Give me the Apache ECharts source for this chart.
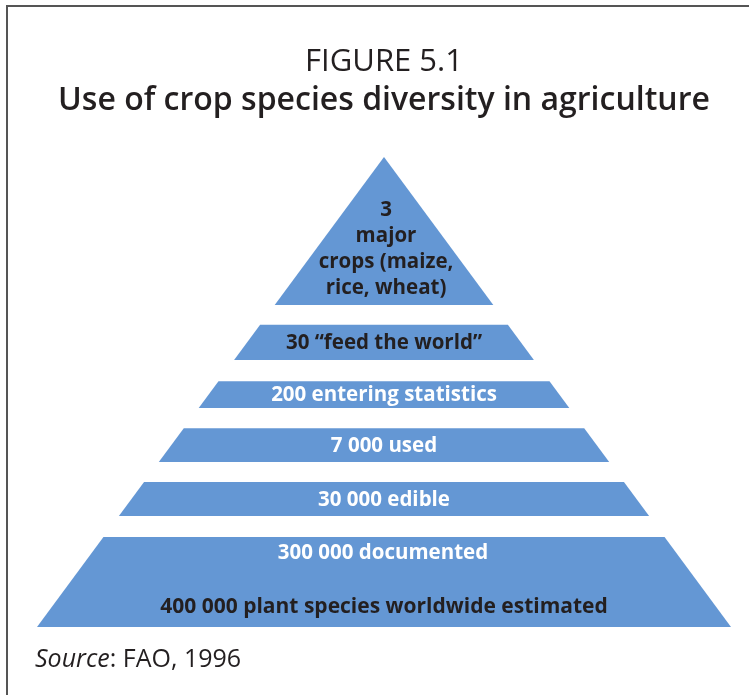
<!DOCTYPE html>
<html>
<head>
<meta charset="utf-8">
<script src="https://cdn.jsdelivr.net/npm/echarts@6/dist/echarts.min.js"></script>
<style>
  html, body { margin: 0; padding: 0; background: #ffffff; overflow: hidden; }
  #chart { width: 749px; height: 695px; }
</style>
</head>
<body>
<div id="chart"></div>
<script>
// ---- Data ----
const tierNames = ['3 major crops', '30 feed the world', '200 entering statistics', '7 000 used', '30 000 edible', '300 000 documented'];
const speciesCounts = [3, 30, 200, 7000, 30000, 300000];
const tierLabels = [
  '3\nmajor\ncrops (maize,\nrice, wheat)',
  '30 \u201cfeed the world\u201d',
  '200 entering statistics',
  '7 000 used',
  '30 000 edible',
  '300 000 documented'
];
// extent of each tier on the pyramid level scale (0 = base, 100 = apex)
const levelFrom = [68.5, 56.8, 46.6, 35.1, 23.6, 0];
const levelTo   = [100, 64.3, 52.3, 42.3, 30.85, 19.15];
const baseLabel = '400 000 plant species worldwide estimated';
const baseCount = 400000;
const titleTop = 'FIGURE 5.1';
const titleMain = 'Use of crop species diversity in agriculture';
const sourceText = 'FAO, 1996';

// ---- Styles ----
const FILL = '#6497d4';
const DARK = '#231f20';
const labelColors = [DARK, DARK, '#ffffff', '#ffffff', '#ffffff', '#ffffff'];
const FONT = '"Open Sans", "Noto Sans", sans-serif';

const seriesData = tierNames.map((n, i) => ({
  name: n,
  value: [levelFrom[i], levelTo[i], speciesCounts[i]]
}));

function renderItem(params, api) {
  const i = params.dataIndex;
  const lo = api.value(0), hi = api.value(1);
  const pBL = api.coord([-(100 - lo), lo]);
  const pBR = api.coord([(100 - lo), lo]);
  const pTR = api.coord([(100 - hi), hi]);
  const pTL = api.coord([-(100 - hi), hi]);
  const cx = (pBL[0] + pBR[0]) / 2;
  const yTop = pTL[1], yBot = pBL[1];
  const children = [{
    type: 'polygon',
    shape: { points: [pBL, pBR, pTR, pTL] },
    style: { fill: FILL }
  }];
  const textStyle = {
    fill: labelColors[i],
    font: 'bold 20.5px ' + FONT,
    align: 'center',
    verticalAlign: 'middle'
  };
  if (i === 0) {
    children.push({
      type: 'text', x: cx + 2, y: yBot - 56,
      style: Object.assign({}, textStyle, { text: tierLabels[i], lineHeight: 26 })
    });
  } else if (i === tierLabels.length - 1) {
    children.push({
      type: 'text', x: cx - 1, y: yTop + 16,
      style: Object.assign({}, textStyle, { text: tierLabels[i] })
    });
    children.push({
      type: 'text', x: cx, y: yBot - 20,
      style: Object.assign({}, textStyle, { text: baseLabel, fill: DARK, font: 'bold 21px ' + FONT })
    });
  } else {
    children.push({
      type: 'text', x: cx, y: (yTop + yBot) / 2 + 1,
      style: Object.assign({}, textStyle, { text: tierLabels[i] })
    });
  }
  return { type: 'group', children: children };
}

const chart = echarts.init(document.getElementById('chart'), null, { renderer: 'canvas' });
chart.setOption({
  backgroundColor: '#ffffff',
  animation: false,
  grid: { left: 37, right: 18, top: 157, bottom: 68 },
  xAxis: { type: 'value', min: -100, max: 100, show: false },
  yAxis: { type: 'value', min: 0, max: 100, show: false },
  graphic: [
    {
      type: 'polyline', z: -1,
      shape: { points: [[7, 720], [7, 6], [760, 6]] },
      style: { fill: null, stroke: '#555555', lineWidth: 2 }
    },
    {
      type: 'text', x: 384, y: 62,
      style: { text: titleTop, font: '31px ' + FONT, fill: DARK, align: 'center', verticalAlign: 'middle' }
    },
    {
      type: 'text', x: 384, y: 101,
      style: { text: titleMain, font: '600 32px ' + FONT, fill: DARK, align: 'center', verticalAlign: 'middle' }
    },
    {
      type: 'text', x: 35, y: 660,
      style: {
        text: '{i|Source}: ' + sourceText,
        font: '25px ' + FONT, fill: DARK, verticalAlign: 'middle',
        rich: { i: { fontStyle: 'italic', fontSize: 25, fontFamily: FONT, fill: DARK } }
      }
    }
  ],
  series: [{
    type: 'custom',
    renderItem: renderItem,
    data: seriesData,
    encode: { x: -1, y: [0, 1] }
  }]
});
</script>
</body>
</html>
